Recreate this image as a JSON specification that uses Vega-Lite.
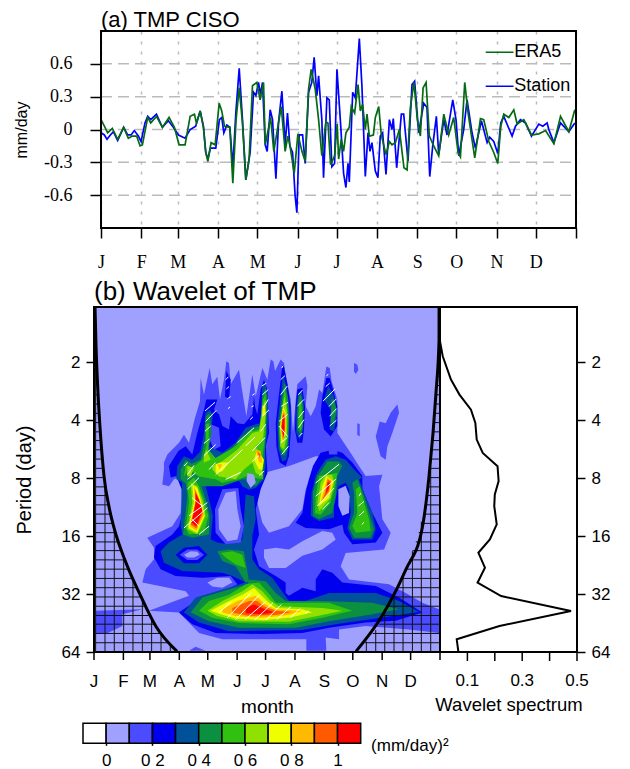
{"$schema":"https://vega.github.io/schema/vega-lite/v6.json","padding":{"left":13,"top":9,"right":0,"bottom":0},"bounds":"flush","spacing":79,"config":{"font":"Liberation Sans","axis":{"grid":false,"domainColor":"black","tickColor":"black","labelColor":"black","titleColor":"black","titleFontWeight":"normal","domainWidth":2,"tickWidth":1.5,"labelOverlap":false}},
"datasets":{
"station":[[0,-0.03],[2.6,-0.05],[4.6,-0.09],[7.2,-0.05],[9.5,-0.02],[12.8,-0.1],[17.4,0.02],[20.5,-0.05],[23.1,-0.05],[25.6,-0.01],[28.7,-0.06],[30.8,-0.11],[33.8,0.06],[35.9,0.12],[38.2,0.09],[42.6,0.14],[47.2,0.02],[51.8,0.08],[55.6,0.02],[59.5,-0.05],[64.6,-0.08],[68.5,0],[72.8,0.03],[76.2,0.17],[78.7,0.03],[80.5,-0.21],[82.1,-0.27],[84.1,-0.17],[88.2,-0.17],[91,0.09],[92.8,0.11],[94.4,-0.03],[96.7,0.04],[99,0.02],[101.3,-0.34],[103.6,0.15],[106.2,0.56],[108.7,0.09],[111.3,-0.46],[114.6,-0.21],[117.2,0.34],[119,0.31],[121,0.43],[122.6,0.32],[124.1,0.43],[126.2,-0.14],[127.7,-0.2],[130,0.18],[131.8,0.09],[134.4,-0.45],[136.4,0.06],[139,0.35],[141.5,-0.14],[143.3,0.15],[145.1,-0.15],[147.2,-0.21],[149.2,-0.61],[150.5,-0.76],[152.3,-0.05],[154.9,-0.05],[156.9,-0.31],[159.5,0.34],[162,0.43],[163.8,0.66],[165.9,0.31],[167.2,0.49],[169.7,0.09],[171,-0.44],[173.6,0.29],[175.4,0.27],[177.4,-0.34],[179.5,-0.31],[181.3,0.55],[183.9,0.09],[186.4,-0.4],[188.2,-0.53],[189.8,-0.31],[190.8,-0.48],[193.4,0.34],[195.4,0.29],[198.5,0.83],[200.5,0.4],[203.1,-0.43],[205.2,-0.03],[206.7,-0.2],[208.2,-0.12],[210.8,-0.38],[212.8,-0.44],[214.6,-0.06],[216.4,-0.03],[219,-0.41],[221.6,0.09],[223.6,0],[224.6,0.1],[227.2,-0.35],[230.8,0.14],[232.6,0.14],[235.9,-0.29],[239,0.41],[241,0.44],[244.1,-0.03],[248,0.24],[250.5,0.2],[252.6,-0.43],[254.9,-0.15],[257.7,0.12],[259.5,-0.23],[263.4,0.09],[265.9,-0.05],[270.3,0.27],[272.8,0.09],[274.9,-0.24],[278.7,0],[281.3,0.27],[285.1,-0.03],[287.7,-0.17],[292.3,0.08],[296.7,-0.12],[298.7,-0.07],[301.8,-0.11],[304.9,-0.22],[307.2,0.06],[309.5,0.12],[315.9,-0.06],[318.5,0.03],[322.3,0.09],[326.2,0.06],[330.8,-0.06],[336.4,0.05],[339.5,0.03],[342.8,0.06],[344.1,0],[348,-0.12],[353.1,0.06],[359.5,-0.02],[364.1,0.06]],
"era5":[[0,0.09],[2.6,0.03],[5.1,-0.03],[8.7,0.01],[12.8,-0.09],[17.4,0.02],[21,-0.08],[24.1,-0.06],[27.4,-0.06],[30,-0.15],[31.8,-0.14],[35.9,0.11],[38.2,0.06],[42.6,0.12],[47.2,0.02],[52.3,0.11],[56.4,0.02],[60,-0.14],[64.6,-0.14],[68.5,0.12],[71.8,0.14],[73.3,0.06],[76.2,0.17],[78.7,0.02],[80.5,-0.21],[82.1,-0.29],[84.6,-0.12],[87.7,-0.14],[90.8,0.24],[92.8,0.17],[94.9,0.03],[99,0.02],[101.3,-0.49],[103.8,0.09],[106.2,0.38],[108.7,0.06],[111.3,-0.46],[113.8,-0.27],[116.4,0.4],[119.7,0.43],[122.3,0.27],[124.9,0.43],[126.2,-0.14],[127.7,-0.05],[130.3,0.11],[132.8,-0.2],[136.4,0.06],[138.5,0.21],[141.5,-0.2],[143.6,-0.06],[145.1,-0.14],[148.5,-0.4],[151.3,-0.04],[154.4,-0.2],[156.9,-0.29],[159.5,0.37],[161.5,0.55],[164.6,0.37],[167.2,0.09],[169.7,-0.24],[172.8,0.07],[174.4,0.06],[176.4,-0.32],[179.5,-0.24],[181.5,0.05],[182.6,-0.27],[184.6,-0.09],[186.4,-0.2],[188.2,-0.03],[190.8,0.02],[192.3,0.21],[194.9,0.15],[197.5,0.41],[199.3,0.17],[201,0.23],[203.1,0],[204.4,0.14],[206.2,-0.06],[209.3,-0.05],[210.8,0.11],[213.4,0.21],[215.4,-0.05],[219,-0.23],[221.6,-0.11],[223.6,-0.14],[226.2,-0.12],[229.3,0],[232.8,-0.35],[235.2,-0.37],[237.7,0.2],[240.5,0.43],[243.1,0.09],[245.4,-0.06],[247.5,0.38],[249.8,0.43],[252.3,-0.06],[255.7,-0.15],[259.5,-0.24],[263.4,0.14],[267.2,-0.05],[271,0.11],[274.4,-0.21],[276.2,-0.25],[279.5,0.43],[282.1,0.15],[287.2,-0.26],[291.6,0.1],[294.1,0.09],[298,-0.11],[301.8,-0.21],[304.9,-0.31],[307.2,0.03],[309.5,0.14],[313.4,0.11],[317.2,0.18],[319.8,0.05],[324.9,0.09],[330.8,-0.05],[336.4,-0.04],[341.6,-0.01],[348,-0.13],[353.1,0.12],[359.5,-0.02],[364.1,0.18]]
},
"vconcat":[
{"width":482,"height":197,"view":{"stroke":null},"title":{"text":"(a) TMP CISO","anchor":"start","frame":"group","dx":7,"font":"Liberation Sans","fontWeight":"normal","fontSize":22,"offset":-2},
"layer":[
{"data":{"values":[{"v":-0.6},{"v":-0.3},{"v":0},{"v":0.3},{"v":0.6}]},"transform":[{"calculate":"0","as":"a"},{"calculate":"365","as":"b"}],"mark":{"type":"rule","color":"#bbbbbb","strokeWidth":1.5,"strokeDash":[11,6]},"encoding":{"x":{"field":"a","type":"quantitative","scale":{"domain":[0,365],"range":[7,482],"nice":false},"axis":{"values":[0,31,59,90,120,151,181,212,243,273,304,334,365],"labelExpr":"['J','F','M','A','M','J','J','A','S','O','N','D',''][indexof([0,31,59,90,120,151,181,212,243,273,304,334,365],datum.value)]","title":null,"grid":true,"gridColor":"#bbbbbb","gridWidth":1.5,"gridDash":[3,7],"tickSize":10,"labelFont":"Liberation Serif","labelFontSize":18,"labelPadding":15,"domain":false,"labelFlush":false}},"x2":{"field":"b"},"y":{"field":"v","type":"quantitative","scale":{"domain":[-0.9,0.9],"nice":false},"axis":{"values":[-0.6,-0.3,0,0.3,0.6],"offset":-7,"labelExpr":"datum.value==0?'0':(datum.value<0?'-':'')+format(abs(datum.value),'.1f')","title":"mm/day","titleFontSize":16,"titleFont":"Liberation Sans","titlePadding":14,"tickSize":11,"labelFont":"Liberation Serif","labelFontSize":18,"labelPadding":18,"domain":false}}}},
{"data":{"name":"station"},"transform":[{"calculate":"datum[0]","as":"d"},{"calculate":"datum[1]","as":"v"}],"mark":{"type":"line","color":"#0000FF","strokeWidth":1.7},"encoding":{"x":{"field":"d","type":"quantitative"},"y":{"field":"v","type":"quantitative"},"order":{"value":null}}},
{"data":{"name":"era5"},"transform":[{"calculate":"datum[0]","as":"d"},{"calculate":"datum[1]","as":"v"}],"mark":{"type":"line","color":"#056A14","strokeWidth":1.7},"encoding":{"x":{"field":"d","type":"quantitative"},"y":{"field":"v","type":"quantitative"},"order":{"value":null}}},
{"data":{"values":[{"a":0,"b":365,"c":-0.9,"e":0.9}]},"mark":{"type":"rect","filled":false,"stroke":"black","strokeWidth":2},"encoding":{"x":{"field":"a","type":"quantitative"},"x2":{"field":"b"},"y":{"field":"c","type":"quantitative"},"y2":{"field":"e"}}},
{"data":{"values":[{"a":295.6,"b":317,"v":0.706,"s":"#056A14"},{"a":295.6,"b":317,"v":0.395,"s":"#0000FF"}]},"mark":{"type":"rule","strokeWidth":1.5},"encoding":{"x":{"field":"a","type":"quantitative"},"x2":{"field":"b"},"y":{"field":"v","type":"quantitative"},"color":{"field":"s","type":"nominal","scale":null,"legend":null}}},
{"data":{"values":[{"a":317.5,"v":0.706,"t":"ERA5"},{"a":317.5,"v":0.395,"t":"Station"}]},"mark":{"type":"text","align":"left","baseline":"middle","font":"Liberation Sans","fontSize":18,"color":"black"},"encoding":{"x":{"field":"a","type":"quantitative"},"y":{"field":"v","type":"quantitative"},"text":{"field":"t"}}}
]},
{"width":346,"height":345,"view":{"fill":"#A0A0FF","stroke":"black","strokeWidth":2},"title":{"text":"(b) Wavelet of TMP","anchor":"start","frame":"group","font":"Liberation Sans","fontWeight":"normal","fontSize":26,"offset":-4},
"resolve":{"scale":{"x":"independent"},"axis":{"x":"independent","y":"independent"}},
"layer":[
{"layer":[
{"data":{"values":[
{"c":1,"l":2,"x":73.8,"y":2.73},{"c":1,"l":2,"x":77.4,"y":2.59},{"c":1,"l":2,"x":89.7,"y":2.39},{"c":1,"l":2,"x":94.9,"y":2.25},{"c":1,"l":2,"x":100.2,"y":2.39},{"c":1,"l":2,"x":106.5,"y":1.96},{"c":1,"l":2,"x":111.8,"y":1.67},{"c":1,"l":2,"x":112.5,"y":1.27},{"c":1,"l":2,"x":116,"y":1.56},{"c":1,"l":2,"x":122,"y":1.1},{"c":1,"l":2,"x":124.8,"y":1.38},{"c":1,"l":2,"x":130.1,"y":1.25},{"c":1,"l":2,"x":132.9,"y":1.64},{"c":1,"l":2,"x":137.1,"y":1.3},{"c":1,"l":2,"x":139.6,"y":0.98},{"c":1,"l":2,"x":142.4,"y":1.01},{"c":1,"l":2,"x":144.2,"y":1.38},{"c":1,"l":2,"x":153,"y":1.13},{"c":1,"l":2,"x":155.8,"y":1.44},{"c":1,"l":2,"x":160.7,"y":1.93},{"c":1,"l":2,"x":167,"y":1.21},{"c":1,"l":2,"x":170.6,"y":1.59},{"c":1,"l":2,"x":177.6,"y":1.1},{"c":1,"l":2,"x":182.9,"y":1.3},{"c":1,"l":2,"x":186.4,"y":0.95},{"c":1,"l":2,"x":189.2,"y":0.98},{"c":1,"l":2,"x":191,"y":1.15},{"c":1,"l":2,"x":196.9,"y":0.95},{"c":1,"l":2,"x":200.4,"y":1.01},{"c":1,"l":2,"x":202.9,"y":1.3},{"c":1,"l":2,"x":207.5,"y":1.64},{"c":1,"l":2,"x":209.9,"y":2.22},{"c":1,"l":2,"x":212.8,"y":1.64},{"c":1,"l":2,"x":214.5,"y":1.38},{"c":1,"l":2,"x":223.3,"y":1.24},{"c":1,"l":2,"x":225.1,"y":1.41},{"c":1,"l":2,"x":223.3,"y":1.76},{"c":1,"l":2,"x":228.6,"y":1.93},{"c":1,"l":2,"x":233.9,"y":1.76},{"c":1,"l":2,"x":237.4,"y":1.47},{"c":1,"l":2,"x":240.9,"y":1.53},{"c":1,"l":2,"x":245.1,"y":1.07},{"c":1,"l":2,"x":248.6,"y":1.1},{"c":1,"l":2,"x":250.7,"y":1.33},{"c":1,"l":2,"x":256.7,"y":1.64},{"c":1,"l":2,"x":256.7,"y":2.22},{"c":1,"l":2,"x":267.3,"y":2.48},{"c":1,"l":2,"x":279.6,"y":2.79},{"c":1,"l":2,"x":286.6,"y":2.96},{"c":1,"l":2,"x":304.2,"y":2.94},{"c":1,"l":2,"x":300.7,"y":3.14},{"c":1,"l":2,"x":304.2,"y":3.71},{"c":1,"l":2,"x":313,"y":3.94},{"c":1,"l":2,"x":306,"y":4.23},{"c":1,"l":2,"x":265.5,"y":4.29},{"c":1,"l":2,"x":260.2,"y":4.52},{"c":1,"l":2,"x":269,"y":4.75},{"c":1,"l":2,"x":311.2,"y":4.83},{"c":1,"l":2,"x":328.8,"y":4.98},{"c":1,"l":2,"x":346.4,"y":5.15},{"c":1,"l":2,"x":364,"y":5.26},{"c":1,"l":2,"x":364,"y":5.67},{"c":1,"l":2,"x":332.3,"y":5.61},{"c":1,"l":2,"x":286.6,"y":5.55},{"c":1,"l":2,"x":258.5,"y":5.61},{"c":1,"l":2,"x":258.5,"y":5.78},{"c":1,"l":2,"x":244.4,"y":5.75},{"c":1,"l":2,"x":245.1,"y":5.98},{"c":1,"l":2,"x":224,"y":5.98},{"c":1,"l":2,"x":224,"y":5.78},{"c":1,"l":2,"x":170.6,"y":5.78},{"c":1,"l":2,"x":135.4,"y":5.78},{"c":1,"l":2,"x":110.8,"y":5.67},{"c":1,"l":2,"x":89.7,"y":5.32},{"c":1,"l":2,"x":58,"y":5.29},{"c":1,"l":2,"x":100.2,"y":5.03},{"c":1,"l":2,"x":96.7,"y":4.95},{"c":1,"l":2,"x":51,"y":4.8},{"c":1,"l":2,"x":54.5,"y":4.57},{"c":1,"l":2,"x":63.3,"y":4.4},{"c":1,"l":2,"x":63.3,"y":4.2},{"c":1,"l":2,"x":56.2,"y":4.03},{"c":1,"l":2,"x":82.6,"y":3.83},{"c":1,"l":2,"x":91.4,"y":3.6},{"c":1,"l":2,"x":93.2,"y":2.96},{"c":1,"l":2,"x":84.4,"y":3.02},{"c":1,"l":2,"x":79.1,"y":3.14},{"c":1,"l":2,"x":72.1,"y":3.11},{"c":1,"l":2,"x":73.8,"y":2.85},
{"c":2,"l":2,"x":320,"y":1.73},{"c":2,"l":2,"x":321.8,"y":1.87},{"c":2,"l":2,"x":314.7,"y":2.22},{"c":2,"l":2,"x":309.5,"y":2.45},{"c":2,"l":2,"x":307.7,"y":2.68},{"c":2,"l":2,"x":302.4,"y":2.62},{"c":2,"l":2,"x":297.2,"y":2.28},{"c":2,"l":2,"x":301.4,"y":2.02},{"c":2,"l":2,"x":307.7,"y":2.05},{"c":2,"l":2,"x":313,"y":1.87},
{"c":3,"l":2,"x":274.3,"y":1.01},{"c":3,"l":2,"x":277.8,"y":1.04},{"c":3,"l":2,"x":278.9,"y":1.13},{"c":3,"l":2,"x":276.1,"y":1.2},{"c":3,"l":2,"x":274.3,"y":1.16},
{"c":4,"l":2,"x":277.8,"y":2.05},{"c":4,"l":2,"x":280.3,"y":2.07},{"c":4,"l":2,"x":280.3,"y":2.28},{"c":4,"l":2,"x":277.8,"y":2.25},
{"c":5,"l":2,"x":1.7,"y":5.29},{"c":5,"l":2,"x":51,"y":5.26},{"c":5,"l":2,"x":29.9,"y":5.35},{"c":5,"l":2,"x":29.9,"y":5.55},{"c":5,"l":2,"x":12.3,"y":5.69},{"c":5,"l":2,"x":1.7,"y":5.67},
{"c":6,"l":2,"x":100.2,"y":5.98},{"c":6,"l":2,"x":107.2,"y":5.91},{"c":6,"l":2,"x":117.8,"y":5.98},
{"c":7,"l":1,"x":172.3,"y":3.19},{"c":7,"l":1,"x":179.3,"y":2.91},{"c":7,"l":1,"x":205.7,"y":2.79},{"c":7,"l":1,"x":233.9,"y":2.62},{"c":7,"l":1,"x":240.9,"y":2.62},{"c":7,"l":1,"x":230.3,"y":2.85},{"c":7,"l":1,"x":223.3,"y":3.19},{"c":7,"l":1,"x":219.8,"y":3.54},{"c":7,"l":1,"x":205.7,"y":3.83},{"c":7,"l":1,"x":184.6,"y":3.94},{"c":7,"l":1,"x":177.6,"y":3.77},{"c":7,"l":1,"x":172.3,"y":3.42},
{"c":8,"l":1,"x":179.3,"y":4.23},{"c":8,"l":1,"x":191.7,"y":4.2},{"c":8,"l":1,"x":205.7,"y":4.23},{"c":8,"l":1,"x":219.8,"y":4.09},{"c":8,"l":1,"x":240.9,"y":3.91},{"c":8,"l":1,"x":251.4,"y":3.94},{"c":8,"l":1,"x":255,"y":4.06},{"c":8,"l":1,"x":240.9,"y":4.23},{"c":8,"l":1,"x":219.8,"y":4.34},{"c":8,"l":1,"x":202.2,"y":4.55},{"c":8,"l":1,"x":184.6,"y":4.55},{"c":8,"l":1,"x":179.3,"y":4.37},
{"c":12,"l":1,"x":209.2,"y":5.03},{"c":12,"l":1,"x":216.3,"y":4.92},{"c":12,"l":1,"x":223.3,"y":5.06},
{"c":13,"l":1,"x":119.6,"y":4.8},{"c":13,"l":1,"x":130.1,"y":4.72},{"c":13,"l":1,"x":142.4,"y":4.72},{"c":13,"l":1,"x":145.9,"y":4.8},{"c":13,"l":1,"x":135.4,"y":4.89},{"c":13,"l":1,"x":124.8,"y":4.87},
{"c":20,"l":3,"x":82.6,"y":3.97},{"c":20,"l":3,"x":65,"y":4.17},{"c":20,"l":3,"x":63.3,"y":4.37},{"c":20,"l":3,"x":70.3,"y":4.57},{"c":20,"l":3,"x":86.1,"y":4.69},{"c":20,"l":3,"x":114.3,"y":4.72},{"c":20,"l":3,"x":144.2,"y":4.69},{"c":20,"l":3,"x":151.2,"y":4.83},{"c":20,"l":3,"x":128.3,"y":5.01},{"c":20,"l":3,"x":107.2,"y":5.12},{"c":20,"l":3,"x":89.7,"y":5.32},{"c":20,"l":3,"x":103.7,"y":5.52},{"c":20,"l":3,"x":128.3,"y":5.67},{"c":20,"l":3,"x":177.6,"y":5.69},{"c":20,"l":3,"x":219.8,"y":5.67},{"c":20,"l":3,"x":247.9,"y":5.58},{"c":20,"l":3,"x":286.6,"y":5.49},{"c":20,"l":3,"x":318.3,"y":5.46},{"c":20,"l":3,"x":346.4,"y":5.32},{"c":20,"l":3,"x":321.8,"y":5.06},{"c":20,"l":3,"x":297.2,"y":4.86},{"c":20,"l":3,"x":262,"y":4.8},{"c":20,"l":3,"x":251.4,"y":4.63},{"c":20,"l":3,"x":240.9,"y":4.57},{"c":20,"l":3,"x":233.9,"y":4.75},{"c":20,"l":3,"x":233.9,"y":4.95},{"c":20,"l":3,"x":219.8,"y":4.89},{"c":20,"l":3,"x":205.7,"y":5.03},{"c":20,"l":3,"x":202.2,"y":4.98},{"c":20,"l":3,"x":202.2,"y":4.8},{"c":20,"l":3,"x":191.7,"y":4.69},{"c":20,"l":3,"x":174.1,"y":4.52},{"c":20,"l":3,"x":168.8,"y":4.23},{"c":20,"l":3,"x":174.1,"y":3.97},{"c":20,"l":3,"x":170.6,"y":3.54},{"c":20,"l":3,"x":175.8,"y":3.19},{"c":20,"l":3,"x":182.9,"y":2.91},{"c":20,"l":3,"x":181.1,"y":2.45},{"c":20,"l":3,"x":184.6,"y":2.22},{"c":20,"l":3,"x":183.9,"y":1.87},{"c":20,"l":3,"x":182.9,"y":1.47},{"c":20,"l":3,"x":179.3,"y":1.3},{"c":20,"l":3,"x":175.8,"y":1.47},{"c":20,"l":3,"x":172.3,"y":1.9},{"c":20,"l":3,"x":169.8,"y":1.76},{"c":20,"l":3,"x":168.8,"y":1.59},{"c":20,"l":3,"x":167,"y":1.9},{"c":20,"l":3,"x":158.2,"y":2.07},{"c":20,"l":3,"x":151.2,"y":2.05},{"c":20,"l":3,"x":144.2,"y":1.93},{"c":20,"l":3,"x":142.4,"y":2.16},{"c":20,"l":3,"x":135.4,"y":2.1},{"c":20,"l":3,"x":131.9,"y":1.9},{"c":20,"l":3,"x":126.6,"y":1.82},{"c":20,"l":3,"x":130.1,"y":1.64},{"c":20,"l":3,"x":118.5,"y":1.64},{"c":20,"l":3,"x":116,"y":1.82},{"c":20,"l":3,"x":109,"y":2.22},{"c":20,"l":3,"x":103.7,"y":2.59},{"c":20,"l":3,"x":96.7,"y":2.45},{"c":20,"l":3,"x":89,"y":2.53},{"c":20,"l":3,"x":79.1,"y":2.79},{"c":20,"l":3,"x":80.9,"y":2.99},{"c":20,"l":3,"x":86.8,"y":2.96},{"c":20,"l":3,"x":92.5,"y":3.19},{"c":20,"l":3,"x":93.2,"y":3.6},{"c":20,"l":3,"x":89.7,"y":3.83},
{"c":21,"l":3,"x":198.7,"y":1.04},{"c":21,"l":3,"x":196.9,"y":1.3},{"c":21,"l":3,"x":194.5,"y":1.64},{"c":21,"l":3,"x":191.7,"y":2.05},{"c":21,"l":3,"x":192.4,"y":2.45},{"c":21,"l":3,"x":195.9,"y":2.73},{"c":21,"l":3,"x":202.2,"y":2.79},{"c":21,"l":3,"x":205.7,"y":2.62},{"c":21,"l":3,"x":207.5,"y":2.22},{"c":21,"l":3,"x":207.5,"y":1.76},{"c":21,"l":3,"x":204,"y":1.36},{"c":21,"l":3,"x":200.4,"y":1.07},
{"c":22,"l":3,"x":214.5,"y":1.47},{"c":22,"l":3,"x":212.8,"y":1.76},{"c":22,"l":3,"x":212,"y":2.16},{"c":22,"l":3,"x":214.5,"y":2.39},{"c":22,"l":3,"x":219.8,"y":2.39},{"c":22,"l":3,"x":221.5,"y":2.16},{"c":22,"l":3,"x":222.6,"y":1.76},{"c":22,"l":3,"x":219.8,"y":1.44},
{"c":23,"l":3,"x":245.1,"y":1.27},{"c":23,"l":3,"x":240.9,"y":1.59},{"c":23,"l":3,"x":239.1,"y":1.87},{"c":23,"l":3,"x":242.7,"y":2.16},{"c":23,"l":3,"x":249.7,"y":2.28},{"c":23,"l":3,"x":256.7,"y":2.1},{"c":23,"l":3,"x":256.7,"y":1.76},{"c":23,"l":3,"x":253.2,"y":1.53},{"c":23,"l":3,"x":248.6,"y":1.27},
{"c":24,"l":3,"x":139.6,"y":1.15},{"c":24,"l":3,"x":138.2,"y":1.59},{"c":24,"l":3,"x":142.4,"y":1.64},{"c":24,"l":3,"x":144.2,"y":1.3},
{"c":25,"l":3,"x":223.3,"y":3.25},{"c":25,"l":3,"x":219.8,"y":3.6},{"c":25,"l":3,"x":212.8,"y":3.77},{"c":25,"l":3,"x":223.3,"y":3.86},{"c":25,"l":3,"x":247.9,"y":3.88},{"c":25,"l":3,"x":262,"y":3.8},{"c":25,"l":3,"x":263.7,"y":3.94},{"c":25,"l":3,"x":272.5,"y":4.14},{"c":25,"l":3,"x":297.2,"y":4.11},{"c":25,"l":3,"x":304.2,"y":3.94},{"c":25,"l":3,"x":293.7,"y":3.6},{"c":25,"l":3,"x":283.1,"y":3.19},{"c":25,"l":3,"x":283.1,"y":2.96},{"c":25,"l":3,"x":272.5,"y":2.73},{"c":25,"l":3,"x":262,"y":2.56},{"c":25,"l":3,"x":251.4,"y":2.51},{"c":25,"l":3,"x":239.1,"y":2.56},{"c":25,"l":3,"x":231,"y":2.79},{"c":25,"l":3,"x":226.8,"y":3.02},
{"c":30,"l":4,"x":93.2,"y":2.91},{"c":30,"l":4,"x":92.5,"y":3.42},{"c":30,"l":4,"x":91.4,"y":3.83},{"c":30,"l":4,"x":93.2,"y":3.97},{"c":30,"l":4,"x":79.1,"y":4.11},{"c":30,"l":4,"x":70.3,"y":4.26},{"c":30,"l":4,"x":73.8,"y":4.46},{"c":30,"l":4,"x":93.2,"y":4.6},{"c":30,"l":4,"x":135.4,"y":4.63},{"c":30,"l":4,"x":145.9,"y":4.69},{"c":30,"l":4,"x":160,"y":4.8},{"c":30,"l":4,"x":135.4,"y":4.92},{"c":30,"l":4,"x":107.2,"y":5.06},{"c":30,"l":4,"x":94.9,"y":5.32},{"c":30,"l":4,"x":110.8,"y":5.49},{"c":30,"l":4,"x":142.4,"y":5.64},{"c":30,"l":4,"x":219.8,"y":5.62},{"c":30,"l":4,"x":255,"y":5.52},{"c":30,"l":4,"x":290.1,"y":5.44},{"c":30,"l":4,"x":342.9,"y":5.31},{"c":30,"l":4,"x":321.8,"y":5.12},{"c":30,"l":4,"x":297.2,"y":4.98},{"c":30,"l":4,"x":247.9,"y":4.98},{"c":30,"l":4,"x":223.3,"y":5.12},{"c":30,"l":4,"x":205.7,"y":5.12},{"c":30,"l":4,"x":196.9,"y":4.92},{"c":30,"l":4,"x":188.1,"y":4.72},{"c":30,"l":4,"x":174.1,"y":4.57},{"c":30,"l":4,"x":167,"y":4.4},{"c":30,"l":4,"x":167,"y":4},{"c":30,"l":4,"x":170.6,"y":3.71},{"c":30,"l":4,"x":168.8,"y":3.31},{"c":30,"l":4,"x":160,"y":3.28},{"c":30,"l":4,"x":158.2,"y":3.71},{"c":30,"l":4,"x":156.5,"y":4.06},{"c":30,"l":4,"x":140.7,"y":4.14},{"c":30,"l":4,"x":130.1,"y":4.11},{"c":30,"l":4,"x":123.1,"y":4.06},{"c":30,"l":4,"x":125.5,"y":3.65},{"c":30,"l":4,"x":120.6,"y":3.31},{"c":30,"l":4,"x":117.8,"y":3.14},{"c":30,"l":4,"x":117.8,"y":2.96},{"c":30,"l":4,"x":100.2,"y":2.85},
{"c":31,"l":4,"x":86.8,"y":3.02},{"c":31,"l":4,"x":87.9,"y":2.79},{"c":31,"l":4,"x":94.9,"y":2.62},{"c":31,"l":4,"x":103.7,"y":2.68},{"c":31,"l":4,"x":112.5,"y":2.53},{"c":31,"l":4,"x":116,"y":2.22},{"c":31,"l":4,"x":117.8,"y":1.87},{"c":31,"l":4,"x":122,"y":1.82},{"c":31,"l":4,"x":125.5,"y":1.9},{"c":31,"l":4,"x":123.1,"y":2.22},{"c":31,"l":4,"x":121.3,"y":2.45},{"c":31,"l":4,"x":135.4,"y":2.56},{"c":31,"l":4,"x":149.4,"y":2.39},{"c":31,"l":4,"x":160,"y":2.13},{"c":31,"l":4,"x":170.6,"y":2.07},{"c":31,"l":4,"x":175.8,"y":2.05},{"c":31,"l":4,"x":177.6,"y":1.41},{"c":31,"l":4,"x":181.1,"y":1.38},{"c":31,"l":4,"x":183.9,"y":1.64},{"c":31,"l":4,"x":182.9,"y":2.22},{"c":31,"l":4,"x":180.4,"y":2.51},{"c":31,"l":4,"x":181.1,"y":2.79},{"c":31,"l":4,"x":179.3,"y":3.02},{"c":31,"l":4,"x":170.6,"y":3.17},{"c":31,"l":4,"x":163.5,"y":3.2},{"c":31,"l":4,"x":156.5,"y":3.14},{"c":31,"l":4,"x":153,"y":3.05},{"c":31,"l":4,"x":117.8,"y":3.14},{"c":31,"l":4,"x":100.2,"y":3.14},
{"c":32,"l":4,"x":199.4,"y":1.21},{"c":32,"l":4,"x":196.9,"y":1.59},{"c":32,"l":4,"x":193.4,"y":2.05},{"c":32,"l":4,"x":194.5,"y":2.5},{"c":32,"l":4,"x":198.7,"y":2.71},{"c":32,"l":4,"x":202.9,"y":2.68},{"c":32,"l":4,"x":205.7,"y":2.39},{"c":32,"l":4,"x":206.4,"y":1.87},{"c":32,"l":4,"x":202.9,"y":1.41},
{"c":33,"l":4,"x":215.6,"y":1.53},{"c":33,"l":4,"x":213.5,"y":1.82},{"c":33,"l":4,"x":213.5,"y":2.22},{"c":33,"l":4,"x":217,"y":2.33},{"c":33,"l":4,"x":220.5,"y":2.16},{"c":33,"l":4,"x":221.5,"y":1.76},{"c":33,"l":4,"x":219.1,"y":1.5},
{"c":34,"l":4,"x":247.2,"y":1.41},{"c":34,"l":4,"x":242.7,"y":1.64},{"c":34,"l":4,"x":249.7,"y":1.82},{"c":34,"l":4,"x":248.6,"y":2.16},{"c":34,"l":4,"x":253.2,"y":2.19},{"c":34,"l":4,"x":256.7,"y":1.87},{"c":34,"l":4,"x":253.2,"y":1.59},
{"c":35,"l":4,"x":237.4,"y":2.85},{"c":35,"l":4,"x":244.4,"y":2.68},{"c":35,"l":4,"x":255,"y":2.62},{"c":35,"l":4,"x":265.5,"y":2.68},{"c":35,"l":4,"x":276.1,"y":2.88},{"c":35,"l":4,"x":283.1,"y":2.99},{"c":35,"l":4,"x":279.6,"y":3.02},{"c":35,"l":4,"x":286.6,"y":3.31},{"c":35,"l":4,"x":293.7,"y":3.6},{"c":35,"l":4,"x":297.2,"y":3.88},{"c":35,"l":4,"x":293.7,"y":4.06},{"c":35,"l":4,"x":272.5,"y":4.06},{"c":35,"l":4,"x":267.3,"y":3.86},{"c":35,"l":4,"x":270.8,"y":3.6},{"c":35,"l":4,"x":269,"y":3.19},{"c":35,"l":4,"x":265.5,"y":3.08},{"c":35,"l":4,"x":257.8,"y":3.14},{"c":35,"l":4,"x":253.2,"y":3.48},{"c":35,"l":4,"x":253.2,"y":3.68},{"c":35,"l":4,"x":237.4,"y":3.74},{"c":35,"l":4,"x":228.6,"y":3.65},{"c":35,"l":4,"x":229.6,"y":3.25},{"c":35,"l":4,"x":233.9,"y":2.96},
{"c":36,"l":2,"x":247.2,"y":2.45},{"c":36,"l":2,"x":256.7,"y":2.45},{"c":36,"l":2,"x":256.7,"y":2.59},{"c":36,"l":2,"x":247.9,"y":2.59},
{"c":37,"l":2,"x":135.4,"y":3.19},{"c":37,"l":2,"x":152.3,"y":3.17},{"c":37,"l":2,"x":154.7,"y":3.54},{"c":37,"l":2,"x":158.2,"y":3.83},{"c":37,"l":2,"x":154.7,"y":4.11},{"c":37,"l":2,"x":138.9,"y":4.14},{"c":37,"l":2,"x":128.3,"y":3.94},{"c":37,"l":2,"x":127.6,"y":3.54},
{"c":9,"l":1,"x":138.9,"y":3.25},{"c":9,"l":1,"x":149.4,"y":3.22},{"c":9,"l":1,"x":151.2,"y":3.54},{"c":9,"l":1,"x":154.7,"y":3.83},{"c":9,"l":1,"x":151.2,"y":4.06},{"c":9,"l":1,"x":140.7,"y":4.09},{"c":9,"l":1,"x":131.9,"y":3.88},{"c":9,"l":1,"x":131.2,"y":3.54},
{"c":38,"l":2,"x":123.1,"y":2.07},{"c":38,"l":2,"x":131.9,"y":2.13},{"c":38,"l":2,"x":133.6,"y":2.45},{"c":38,"l":2,"x":126.6,"y":2.51},{"c":38,"l":2,"x":122,"y":2.33},
{"c":10,"l":1,"x":257.8,"y":3.19},{"c":10,"l":1,"x":265.5,"y":3.13},{"c":10,"l":1,"x":269.7,"y":3.31},{"c":10,"l":1,"x":269,"y":3.6},{"c":10,"l":1,"x":262,"y":3.65},{"c":10,"l":1,"x":257.8,"y":3.48},
{"c":201,"l":3,"x":86.1,"y":4.32},{"c":201,"l":3,"x":94.9,"y":4.2},{"c":201,"l":3,"x":110.8,"y":4.17},{"c":201,"l":3,"x":119.6,"y":4.32},{"c":201,"l":3,"x":110.8,"y":4.47},{"c":201,"l":3,"x":94.9,"y":4.47},
{"c":202,"l":2,"x":90.4,"y":4.32},{"c":202,"l":2,"x":98.5,"y":4.23},{"c":202,"l":2,"x":109,"y":4.23},{"c":202,"l":2,"x":116,"y":4.32},{"c":202,"l":2,"x":109,"y":4.41},{"c":202,"l":2,"x":98.5,"y":4.41},
{"c":203,"l":1,"x":94.9,"y":4.32},{"c":203,"l":1,"x":102,"y":4.26},{"c":203,"l":1,"x":109,"y":4.27},{"c":203,"l":1,"x":111.5,"y":4.32},{"c":203,"l":1,"x":105.5,"y":4.37},{"c":203,"l":1,"x":98.5,"y":4.37},
{"c":40,"l":5,"x":163.5,"y":4.75},{"c":40,"l":5,"x":181.1,"y":4.78},{"c":40,"l":5,"x":191.7,"y":4.98},{"c":40,"l":5,"x":202.2,"y":5.12},{"c":40,"l":5,"x":240.9,"y":5.12},{"c":40,"l":5,"x":293.7,"y":5.15},{"c":40,"l":5,"x":321.8,"y":5.26},{"c":40,"l":5,"x":293.7,"y":5.35},{"c":40,"l":5,"x":247.9,"y":5.47},{"c":40,"l":5,"x":212.8,"y":5.58},{"c":40,"l":5,"x":153,"y":5.58},{"c":40,"l":5,"x":121.3,"y":5.47},{"c":40,"l":5,"x":102,"y":5.32},{"c":40,"l":5,"x":114.3,"y":5.06},{"c":40,"l":5,"x":142.4,"y":4.92},{"c":40,"l":5,"x":161.8,"y":4.83},
{"c":41,"l":5,"x":130.1,"y":4.26},{"c":41,"l":5,"x":142.4,"y":4.23},{"c":41,"l":5,"x":158.2,"y":4.26},{"c":41,"l":5,"x":163.5,"y":4.78},{"c":41,"l":5,"x":160,"y":4.8},{"c":41,"l":5,"x":149.4,"y":4.52},{"c":41,"l":5,"x":135.4,"y":4.43},
{"c":42,"l":5,"x":96,"y":2.96},{"c":42,"l":5,"x":98.5,"y":3.31},{"c":42,"l":5,"x":94.9,"y":3.83},{"c":42,"l":5,"x":93.9,"y":3.97},{"c":42,"l":5,"x":103.7,"y":4.03},{"c":42,"l":5,"x":121.3,"y":3.97},{"c":42,"l":5,"x":122,"y":3.65},{"c":42,"l":5,"x":117.8,"y":3.37},{"c":42,"l":5,"x":112.5,"y":3.08},{"c":42,"l":5,"x":107.2,"y":2.94},
{"c":43,"l":5,"x":240.9,"y":2.85},{"c":43,"l":5,"x":246.2,"y":2.71},{"c":43,"l":5,"x":258.5,"y":2.71},{"c":43,"l":5,"x":262,"y":2.79},{"c":43,"l":5,"x":256.7,"y":2.96},{"c":43,"l":5,"x":255,"y":3.31},{"c":43,"l":5,"x":251.4,"y":3.6},{"c":43,"l":5,"x":237.4,"y":3.71},{"c":43,"l":5,"x":231,"y":3.65},{"c":43,"l":5,"x":231,"y":3.25},{"c":43,"l":5,"x":235.6,"y":2.96},
{"c":44,"l":5,"x":272.5,"y":3.08},{"c":44,"l":5,"x":277.8,"y":3.02},{"c":44,"l":5,"x":284.9,"y":3.31},{"c":44,"l":5,"x":290.1,"y":3.6},{"c":44,"l":5,"x":295.4,"y":3.88},{"c":44,"l":5,"x":291.9,"y":4.03},{"c":44,"l":5,"x":274.3,"y":4.03},{"c":44,"l":5,"x":269,"y":3.86},{"c":44,"l":5,"x":274.3,"y":3.6},{"c":44,"l":5,"x":274.3,"y":3.25},
{"c":45,"l":5,"x":91.4,"y":3.02},{"c":45,"l":5,"x":91.4,"y":2.85},{"c":45,"l":5,"x":96.7,"y":2.68},{"c":45,"l":5,"x":103,"y":2.75},{"c":45,"l":5,"x":112.5,"y":2.68},{"c":45,"l":5,"x":117.1,"y":2.33},{"c":45,"l":5,"x":117.8,"y":1.93},{"c":45,"l":5,"x":122,"y":1.87},{"c":45,"l":5,"x":124.1,"y":2.22},{"c":45,"l":5,"x":120.6,"y":2.51},{"c":45,"l":5,"x":128.3,"y":2.68},{"c":45,"l":5,"x":135.4,"y":2.68},{"c":45,"l":5,"x":153,"y":2.33},{"c":45,"l":5,"x":167,"y":2.13},{"c":45,"l":5,"x":175.8,"y":2.1},{"c":45,"l":5,"x":177.6,"y":1.59},{"c":45,"l":5,"x":181.1,"y":1.44},{"c":45,"l":5,"x":182.9,"y":1.64},{"c":45,"l":5,"x":181.1,"y":2.22},{"c":45,"l":5,"x":179.3,"y":2.79},{"c":45,"l":5,"x":176.9,"y":3.02},{"c":45,"l":5,"x":170.6,"y":3.14},{"c":45,"l":5,"x":160,"y":3.02},{"c":45,"l":5,"x":156.5,"y":3.02},{"c":45,"l":5,"x":135.4,"y":3.14},{"c":45,"l":5,"x":100.2,"y":3.14},
{"c":46,"l":5,"x":200.4,"y":1.36},{"c":46,"l":5,"x":197.6,"y":1.76},{"c":46,"l":5,"x":194.5,"y":2.1},{"c":46,"l":5,"x":195.9,"y":2.5},{"c":46,"l":5,"x":200.4,"y":2.62},{"c":46,"l":5,"x":203.9,"y":2.5},{"c":46,"l":5,"x":205.7,"y":2.1},{"c":46,"l":5,"x":205,"y":1.64},{"c":46,"l":5,"x":202.2,"y":1.41},
{"c":47,"l":5,"x":216.3,"y":1.59},{"c":47,"l":5,"x":214.5,"y":1.87},{"c":47,"l":5,"x":214.5,"y":2.16},{"c":47,"l":5,"x":218,"y":2.25},{"c":47,"l":5,"x":220.5,"y":2.1},{"c":47,"l":5,"x":220.5,"y":1.76},{"c":47,"l":5,"x":218.4,"y":1.56},
{"c":48,"l":5,"x":250.7,"y":1.64},{"c":48,"l":5,"x":249.7,"y":2.05},{"c":48,"l":5,"x":253.2,"y":2.05},{"c":48,"l":5,"x":255.7,"y":1.82},{"c":48,"l":5,"x":253.2,"y":1.64},
{"c":50,"l":6,"x":160,"y":4.83},{"c":50,"l":6,"x":174.1,"y":4.8},{"c":50,"l":6,"x":186.4,"y":5.03},{"c":50,"l":6,"x":191.7,"y":5.15},{"c":50,"l":6,"x":247.9,"y":5.15},{"c":50,"l":6,"x":272.5,"y":5.29},{"c":50,"l":6,"x":240.9,"y":5.41},{"c":50,"l":6,"x":205.7,"y":5.52},{"c":50,"l":6,"x":153,"y":5.5},{"c":50,"l":6,"x":124.8,"y":5.41},{"c":50,"l":6,"x":110.8,"y":5.29},{"c":50,"l":6,"x":121.3,"y":5.12},{"c":50,"l":6,"x":142.4,"y":5.01},
{"c":51,"l":6,"x":133.6,"y":4.29},{"c":51,"l":6,"x":145.9,"y":4.26},{"c":51,"l":6,"x":156.5,"y":4.32},{"c":51,"l":6,"x":160,"y":4.55},{"c":51,"l":6,"x":149.4,"y":4.49},{"c":51,"l":6,"x":138.9,"y":4.37},
{"c":52,"l":6,"x":98.5,"y":3.08},{"c":52,"l":6,"x":100.2,"y":3.42},{"c":52,"l":6,"x":96.7,"y":3.86},{"c":52,"l":6,"x":100.2,"y":3.97},{"c":52,"l":6,"x":116,"y":3.94},{"c":52,"l":6,"x":120.6,"y":3.65},{"c":52,"l":6,"x":116,"y":3.37},{"c":52,"l":6,"x":110.8,"y":3.14},{"c":52,"l":6,"x":105.5,"y":2.99},
{"c":53,"l":6,"x":237.4,"y":2.96},{"c":53,"l":6,"x":233.9,"y":3.31},{"c":53,"l":6,"x":233.1,"y":3.6},{"c":53,"l":6,"x":239.1,"y":3.63},{"c":53,"l":6,"x":249.7,"y":3.42},{"c":53,"l":6,"x":254.3,"y":3.14},{"c":53,"l":6,"x":256.7,"y":2.91},
{"c":54,"l":6,"x":276.1,"y":3.19},{"c":54,"l":6,"x":280.3,"y":3.14},{"c":54,"l":6,"x":284.9,"y":3.42},{"c":54,"l":6,"x":290.1,"y":3.71},{"c":54,"l":6,"x":291.9,"y":3.91},{"c":54,"l":6,"x":276.1,"y":3.94},{"c":54,"l":6,"x":272.5,"y":3.83},{"c":54,"l":6,"x":277.8,"y":3.6},
{"c":55,"l":6,"x":95,"y":2.97},{"c":55,"l":6,"x":96.7,"y":2.76},{"c":55,"l":6,"x":103.7,"y":2.82},{"c":55,"l":6,"x":114.3,"y":2.68},{"c":55,"l":6,"x":118.5,"y":2.45},{"c":55,"l":6,"x":117.8,"y":2.07},{"c":55,"l":6,"x":121.3,"y":2.05},{"c":55,"l":6,"x":120.6,"y":2.51},{"c":55,"l":6,"x":128.3,"y":2.65},{"c":55,"l":6,"x":149.4,"y":2.45},{"c":55,"l":6,"x":165.3,"y":2.19},{"c":55,"l":6,"x":174.1,"y":2.16},{"c":55,"l":6,"x":178.3,"y":1.64},{"c":55,"l":6,"x":181.1,"y":1.53},{"c":55,"l":6,"x":181.1,"y":2.22},{"c":55,"l":6,"x":177.6,"y":2.62},{"c":55,"l":6,"x":178.3,"y":3.02},{"c":55,"l":6,"x":160,"y":2.97},{"c":55,"l":6,"x":153,"y":3.02},{"c":55,"l":6,"x":135.4,"y":3.08},{"c":55,"l":6,"x":128.3,"y":3.02},{"c":55,"l":6,"x":110.8,"y":2.97},{"c":55,"l":6,"x":100.2,"y":2.85},
{"c":56,"l":6,"x":200.8,"y":1.47},{"c":56,"l":6,"x":198,"y":1.87},{"c":56,"l":6,"x":195.2,"y":2.16},{"c":56,"l":6,"x":196.6,"y":2.48},{"c":56,"l":6,"x":201.1,"y":2.56},{"c":56,"l":6,"x":203.9,"y":2.39},{"c":56,"l":6,"x":205,"y":1.93},{"c":56,"l":6,"x":202.2,"y":1.53},
{"c":57,"l":6,"x":216.3,"y":1.7},{"c":57,"l":6,"x":215.6,"y":2.1},{"c":57,"l":6,"x":218.4,"y":2.19},{"c":57,"l":6,"x":219.8,"y":1.93},{"c":57,"l":6,"x":218.4,"y":1.67},
{"c":60,"l":7,"x":167,"y":4.83},{"c":60,"l":7,"x":177.6,"y":4.95},{"c":60,"l":7,"x":186.4,"y":5.12},{"c":60,"l":7,"x":195.2,"y":5.21},{"c":60,"l":7,"x":240.9,"y":5.24},{"c":60,"l":7,"x":262,"y":5.29},{"c":60,"l":7,"x":240.9,"y":5.36},{"c":60,"l":7,"x":205.7,"y":5.48},{"c":60,"l":7,"x":153,"y":5.47},{"c":60,"l":7,"x":130.1,"y":5.38},{"c":60,"l":7,"x":119.6,"y":5.29},{"c":60,"l":7,"x":135.4,"y":5.12},{"c":60,"l":7,"x":156.5,"y":4.95},
{"c":61,"l":7,"x":102,"y":3.08},{"c":61,"l":7,"x":103.7,"y":3.42},{"c":61,"l":7,"x":98.5,"y":3.88},{"c":61,"l":7,"x":109,"y":3.97},{"c":61,"l":7,"x":117.8,"y":3.65},{"c":61,"l":7,"x":114.3,"y":3.37},{"c":61,"l":7,"x":109,"y":3.14},
{"c":62,"l":7,"x":239.1,"y":3.08},{"c":62,"l":7,"x":235.6,"y":3.42},{"c":62,"l":7,"x":237.4,"y":3.57},{"c":62,"l":7,"x":249.7,"y":3.34},{"c":62,"l":7,"x":253.2,"y":3.08},{"c":62,"l":7,"x":251.4,"y":2.94},{"c":62,"l":7,"x":244.4,"y":2.94},
{"c":63,"l":7,"x":98.5,"y":2.79},{"c":63,"l":7,"x":105.5,"y":2.82},{"c":63,"l":7,"x":102,"y":2.97},{"c":63,"l":7,"x":98.5,"y":2.97},
{"c":64,"l":7,"x":116,"y":2.62},{"c":64,"l":7,"x":118.5,"y":2.51},{"c":64,"l":7,"x":123.1,"y":2.68},{"c":64,"l":7,"x":116,"y":2.73},
{"c":65,"l":7,"x":124.8,"y":2.79},{"c":65,"l":7,"x":133.6,"y":2.73},{"c":65,"l":7,"x":151.2,"y":2.51},{"c":65,"l":7,"x":167,"y":2.22},{"c":65,"l":7,"x":174.1,"y":2.19},{"c":65,"l":7,"x":179.3,"y":1.7},{"c":65,"l":7,"x":181.1,"y":1.64},{"c":65,"l":7,"x":181.1,"y":1.9},{"c":65,"l":7,"x":178.3,"y":2.33},{"c":65,"l":7,"x":170.6,"y":2.45},{"c":65,"l":7,"x":177.6,"y":2.79},{"c":65,"l":7,"x":177.6,"y":2.97},{"c":65,"l":7,"x":170.6,"y":2.91},{"c":65,"l":7,"x":167,"y":2.73},{"c":65,"l":7,"x":158.2,"y":2.85},{"c":65,"l":7,"x":149.4,"y":3.02},{"c":65,"l":7,"x":131.9,"y":2.97},{"c":65,"l":7,"x":124.8,"y":2.85},
{"c":66,"l":7,"x":200.8,"y":1.59},{"c":66,"l":7,"x":196.9,"y":1.99},{"c":66,"l":7,"x":196.6,"y":2.45},{"c":66,"l":7,"x":200.4,"y":2.5},{"c":66,"l":7,"x":203.6,"y":2.22},{"c":66,"l":7,"x":203.6,"y":1.82},
{"c":70,"l":8,"x":168.8,"y":4.89},{"c":70,"l":8,"x":175.8,"y":5.01},{"c":70,"l":8,"x":184.6,"y":5.15},{"c":70,"l":8,"x":191.7,"y":5.24},{"c":70,"l":8,"x":219.8,"y":5.26},{"c":70,"l":8,"x":230.3,"y":5.32},{"c":70,"l":8,"x":205.7,"y":5.41},{"c":70,"l":8,"x":177.6,"y":5.45},{"c":70,"l":8,"x":149.4,"y":5.42},{"c":70,"l":8,"x":133.6,"y":5.35},{"c":70,"l":8,"x":123.1,"y":5.29},{"c":70,"l":8,"x":138.9,"y":5.15},{"c":70,"l":8,"x":156.5,"y":5.01},
{"c":71,"l":8,"x":103.7,"y":3.11},{"c":71,"l":8,"x":105.5,"y":3.42},{"c":71,"l":8,"x":99.5,"y":3.86},{"c":71,"l":8,"x":109,"y":3.94},{"c":71,"l":8,"x":116.7,"y":3.65},{"c":71,"l":8,"x":112.5,"y":3.37},{"c":71,"l":8,"x":109,"y":3.17},
{"c":72,"l":8,"x":240.9,"y":3.14},{"c":72,"l":8,"x":237.4,"y":3.48},{"c":72,"l":8,"x":247.9,"y":3.34},{"c":72,"l":8,"x":252.5,"y":3.05},{"c":72,"l":8,"x":245.1,"y":2.96},
{"c":73,"l":8,"x":128.3,"y":2.76},{"c":73,"l":8,"x":133.6,"y":2.73},{"c":73,"l":8,"x":142.4,"y":2.73},{"c":73,"l":8,"x":135.4,"y":2.88},{"c":73,"l":8,"x":128.3,"y":2.91},
{"c":74,"l":8,"x":172.3,"y":2.51},{"c":74,"l":8,"x":179.3,"y":2.68},{"c":74,"l":8,"x":177.6,"y":2.85},{"c":74,"l":8,"x":174.1,"y":2.85},{"c":74,"l":8,"x":168.8,"y":2.68},
{"c":75,"l":8,"x":177.6,"y":1.76},{"c":75,"l":8,"x":180,"y":1.73},{"c":75,"l":8,"x":181.1,"y":1.9},{"c":75,"l":8,"x":177.6,"y":1.93},
{"c":76,"l":8,"x":199.7,"y":1.76},{"c":76,"l":8,"x":196.2,"y":2.1},{"c":76,"l":8,"x":198,"y":2.39},{"c":76,"l":8,"x":202.2,"y":2.22},{"c":76,"l":8,"x":202.2,"y":1.87},
{"c":80,"l":9,"x":135.4,"y":5.26},{"c":80,"l":9,"x":151.2,"y":5.12},{"c":80,"l":9,"x":170.6,"y":5.03},{"c":80,"l":9,"x":181.1,"y":5.18},{"c":80,"l":9,"x":191.7,"y":5.26},{"c":80,"l":9,"x":219.8,"y":5.29},{"c":80,"l":9,"x":205.7,"y":5.36},{"c":80,"l":9,"x":177.6,"y":5.41},{"c":80,"l":9,"x":149.4,"y":5.38},{"c":80,"l":9,"x":135.4,"y":5.32},
{"c":81,"l":9,"x":105.5,"y":3.14},{"c":81,"l":9,"x":106.5,"y":3.42},{"c":81,"l":9,"x":101.3,"y":3.83},{"c":81,"l":9,"x":107.9,"y":3.91},{"c":81,"l":9,"x":116,"y":3.63},{"c":81,"l":9,"x":111.5,"y":3.37},
{"c":82,"l":9,"x":242.7,"y":3.19},{"c":82,"l":9,"x":239.1,"y":3.42},{"c":82,"l":9,"x":247.9,"y":3.28},{"c":82,"l":9,"x":251.4,"y":3.05},{"c":82,"l":9,"x":246.2,"y":2.99},
{"c":83,"l":9,"x":170.6,"y":2.51},{"c":83,"l":9,"x":175.8,"y":2.53},{"c":83,"l":9,"x":177.6,"y":2.73},{"c":83,"l":9,"x":174.1,"y":2.73},
{"c":84,"l":9,"x":130.1,"y":2.76},{"c":84,"l":9,"x":135.4,"y":2.76},{"c":84,"l":9,"x":132.6,"y":2.85},
{"c":85,"l":9,"x":199.7,"y":1.82},{"c":85,"l":9,"x":196.9,"y":2.13},{"c":85,"l":9,"x":198.7,"y":2.36},{"c":85,"l":9,"x":202.2,"y":2.19},{"c":85,"l":9,"x":202.2,"y":1.9},
{"c":90,"l":10,"x":145.9,"y":5.24},{"c":90,"l":10,"x":163.5,"y":5.12},{"c":90,"l":10,"x":172.3,"y":5.12},{"c":90,"l":10,"x":179.3,"y":5.21},{"c":90,"l":10,"x":191.7,"y":5.29},{"c":90,"l":10,"x":209.2,"y":5.31},{"c":90,"l":10,"x":191.7,"y":5.36},{"c":90,"l":10,"x":163.5,"y":5.38},{"c":90,"l":10,"x":145.9,"y":5.32},
{"c":91,"l":10,"x":106.5,"y":3.19},{"c":91,"l":10,"x":107.2,"y":3.42},{"c":91,"l":10,"x":102,"y":3.8},{"c":91,"l":10,"x":107.9,"y":3.87},{"c":91,"l":10,"x":115,"y":3.6},{"c":91,"l":10,"x":110.8,"y":3.37},
{"c":92,"l":10,"x":243.7,"y":3.25},{"c":92,"l":10,"x":240.2,"y":3.4},{"c":92,"l":10,"x":247.9,"y":3.22},{"c":92,"l":10,"x":249.7,"y":3.05},{"c":92,"l":10,"x":246.5,"y":3.02},
{"c":93,"l":10,"x":172.3,"y":2.53},{"c":93,"l":10,"x":175.8,"y":2.59},{"c":93,"l":10,"x":174.1,"y":2.65},
{"c":94,"l":10,"x":199.4,"y":1.87},{"c":94,"l":10,"x":197.6,"y":2.13},{"c":94,"l":10,"x":199.4,"y":2.33},{"c":94,"l":10,"x":201.5,"y":2.16},{"c":94,"l":10,"x":201.5,"y":1.93},
{"c":100,"l":11,"x":160,"y":5.24},{"c":100,"l":11,"x":168.8,"y":5.18},{"c":100,"l":11,"x":177.6,"y":5.24},{"c":100,"l":11,"x":189.9,"y":5.32},{"c":100,"l":11,"x":177.6,"y":5.35},{"c":100,"l":11,"x":160,"y":5.33},
{"c":101,"l":11,"x":107.2,"y":3.25},{"c":101,"l":11,"x":107.2,"y":3.42},{"c":101,"l":11,"x":103,"y":3.77},{"c":101,"l":11,"x":107.9,"y":3.83},{"c":101,"l":11,"x":114.3,"y":3.57},{"c":101,"l":11,"x":110.8,"y":3.37},
{"c":102,"l":11,"x":244.4,"y":3.28},{"c":102,"l":11,"x":241.6,"y":3.37},{"c":102,"l":11,"x":247.9,"y":3.17},{"c":102,"l":11,"x":248.6,"y":3.07},{"c":102,"l":11,"x":246.5,"y":3.07},
{"c":103,"l":11,"x":199.4,"y":1.9},{"c":103,"l":11,"x":198,"y":2.13},{"c":103,"l":11,"x":200.1,"y":2.3},{"c":103,"l":11,"x":200.8,"y":2.13},{"c":103,"l":11,"x":200.8,"y":1.96},
{"c":11,"l":1,"x":161.8,"y":2.91},{"c":11,"l":1,"x":168.8,"y":2.94},{"c":11,"l":1,"x":170.6,"y":3.08},{"c":11,"l":1,"x":165.3,"y":3.17},{"c":11,"l":1,"x":161,"y":3.05}
]},"mark":{"type":"line","filled":true,"strokeWidth":0},"encoding":{"x":{"field":"x","type":"quantitative","scale":{"domain":[0,365],"range":[0,346],"nice":false},"axis":{"values":[0,31,59,90,120,151,181,212,243,273,304,334,365],"labels":false,"ticks":false,"title":"month","titleFontSize":19,"titlePadding":45,"domain":false}},"y":{"field":"y","type":"quantitative","scale":{"domain":[0.045,6],"reverse":true,"nice":false},"axis":{"values":[1,2,3,4,5,6],"labelExpr":"pow(2,datum.value)","title":"Period (day)","titleFontSize":20,"titlePadding":27,"tickSize":8,"labelFontSize":17,"labelPadding":6,"domain":false}},"color":{"field":"l","type":"ordinal","scale":{"domain":[0,1,2,3,4,5,6,7,8,9,10,11],"range":["#FFFFFF","#A0A0FF","#4B4BFF","#0000EE","#00509A","#0A9040","#30C010","#90E000","#F0FF00","#FFB900","#FF5A00","#FF0000"]},"legend":null},"detail":{"field":"c"},"order":{"value":null}}},
{"data":{"values":[{"y":5.84,"a":79,"b":286},{"y":5.68,"a":71,"b":294},{"y":5.52,"a":64,"b":301},{"y":5.37,"a":59,"b":306},{"y":5.21,"a":54,"b":311},{"y":5.05,"a":49.5,"b":315.5},{"y":4.89,"a":45,"b":320},{"y":4.73,"a":41,"b":324},{"y":4.57,"a":36.5,"b":328.5},{"y":4.41,"a":32.5,"b":332.5},{"y":4.25,"a":29,"b":336},{"y":4.1,"a":25.5,"b":339.5},{"y":3.94,"a":22.5,"b":342.5},{"y":3.78,"a":20,"b":345},{"y":3.62,"a":17.5,"b":347.5},{"y":3.46,"a":15.5,"b":349.5},{"y":3.3,"a":13.5,"b":351.5},{"y":3.15,"a":12,"b":353},{"y":2.99,"a":10.7,"b":354.3},{"y":2.83,"a":9.7,"b":355.3},{"y":2.67,"a":8.7,"b":356.3},{"y":2.51,"a":8,"b":357},{"y":2.35,"a":7.2,"b":357.8},{"y":2.2,"a":6.5,"b":358.5},{"y":2.04,"a":5.8,"b":359.2},{"y":1.88,"a":5.2,"b":359.8},{"y":1.72,"a":4.7,"b":360.3},{"y":1.56,"a":4.2,"b":360.8},{"y":1.4,"a":3.7,"b":361.3},{"y":1.24,"a":3.2,"b":361.8},{"y":1.09,"a":2.8,"b":362.2},{"y":0.93,"a":2.4,"b":362.6},{"y":0.77,"a":2,"b":363}]},"layer":[
{"transform":[{"calculate":"0","as":"o"}],"mark":{"type":"rule","color":"#111111","strokeWidth":1},"encoding":{"x":{"field":"o","type":"quantitative"},"x2":{"field":"a"},"y":{"field":"y","type":"quantitative"}}},
{"transform":[{"calculate":"365","as":"o"}],"mark":{"type":"rule","color":"#111111","strokeWidth":1},"encoding":{"x":{"field":"b","type":"quantitative"},"x2":{"field":"o"},"y":{"field":"y","type":"quantitative"}}}]},
{"data":{"values":[{"x":1.7,"y":0.5},{"x":11.6,"y":3.1},{"x":21.4,"y":3.87},{"x":31.3,"y":4.35},{"x":41.1,"y":4.74},{"x":51,"y":5.08},{"x":60.8,"y":5.41},{"x":70.7,"y":5.66},{"x":80.5,"y":5.87},{"x":355.2,"y":2.84},{"x":345.3,"y":3.75},{"x":335.9,"y":4.26},{"x":326,"y":4.66},{"x":316.5,"y":5},{"x":306.7,"y":5.35},{"x":297.2,"y":5.62},{"x":287.3,"y":5.82}]},"transform":[{"calculate":"6","as":"e"}],"mark":{"type":"rule","color":"#111111","strokeWidth":1},"encoding":{"x":{"field":"x","type":"quantitative"},"y":{"field":"y","type":"quantitative"},"y2":{"field":"e"}}},
{"data":{"values":[{"a":117.1,"b":1.84,"c":127.6,"e":1.69},{"a":117.8,"b":2.02,"c":129,"e":1.83},{"a":117.1,"b":2.19,"c":123.1,"e":2.1},{"a":116,"b":2.4,"c":122,"e":2.32},{"a":116,"b":2.61,"c":128.3,"e":2.42},{"a":94.9,"b":2.79,"c":98.5,"e":2.73},{"a":98.5,"b":2.94,"c":105.5,"e":2.78},{"a":121.3,"b":2.85,"c":128.3,"e":2.73},{"a":128.3,"b":2.94,"c":156.5,"e":2.51},{"a":138.9,"b":3.02,"c":154.7,"e":2.9},{"a":151.2,"b":2.39,"c":168.8,"e":2.13},{"a":160,"b":2.44,"c":169.8,"e":2.29},{"a":167,"b":2.53,"c":180.4,"e":2.3},{"a":167,"b":2.71,"c":174.1,"e":2.61},{"a":174.1,"b":2.95,"c":179.3,"e":2.88},{"a":138.9,"b":1.3,"c":141.7,"e":1.25},{"a":139.6,"b":1.46,"c":142.4,"e":1.42},{"a":140.7,"b":1.63,"c":144.2,"e":1.59},{"a":141.4,"b":1.8,"c":143.5,"e":1.77},{"a":167,"b":1.57,"c":169.5,"e":1.54},{"a":166,"b":1.77,"c":168.4,"e":1.75},{"a":164.6,"b":1.99,"c":167.7,"e":1.94},{"a":176.9,"b":1.41,"c":181.8,"e":1.36},{"a":177.6,"b":1.56,"c":183.9,"e":1.47},{"a":178.3,"b":1.79,"c":183.9,"e":1.64},{"a":177.6,"b":1.93,"c":184.6,"e":1.82},{"a":175.8,"b":2.19,"c":181.1,"e":2.07},{"a":198,"b":1.1,"c":199.4,"e":1.06},{"a":196.9,"b":1.3,"c":201.5,"e":1.23},{"a":196.9,"b":1.56,"c":203.9,"e":1.41},{"a":197.6,"b":1.76,"c":204.7,"e":1.69},{"a":195.2,"b":2.02,"c":204.3,"e":1.9},{"a":195.2,"b":2.1,"c":204.3,"e":2.28},{"a":196.9,"b":2.39,"c":203.9,"e":2.3},{"a":198,"b":2.59,"c":205,"e":2.45},{"a":215.6,"b":1.56,"c":219.8,"e":1.48},{"a":214.5,"b":1.76,"c":221.5,"e":1.64},{"a":215.6,"b":1.96,"c":221.5,"e":1.84},{"a":215.6,"b":2.13,"c":221.5,"e":1.99},{"a":216.3,"b":2.28,"c":219.8,"e":2.22},{"a":245.1,"b":1.24,"c":247.2,"e":1.2},{"a":244.4,"b":1.42,"c":248.6,"e":1.36},{"a":241.6,"b":1.67,"c":254.3,"e":1.46},{"a":247.9,"b":1.76,"c":255.7,"e":1.63},{"a":248.6,"b":1.93,"c":255.7,"e":1.8},{"a":248.6,"b":2.1,"c":255.7,"e":2},{"a":98.5,"b":3.02,"c":107.2,"e":2.91},{"a":98.5,"b":3.19,"c":110.8,"e":2.99},{"a":103.7,"b":3.34,"c":114.3,"e":3.48},{"a":100.2,"b":3.65,"c":119.6,"e":3.42},{"a":94.9,"b":3.86,"c":119.6,"e":3.51},{"a":110.8,"b":3.97,"c":121.3,"e":3.83},{"a":103.7,"b":3.71,"c":110.8,"e":3.83},{"a":233.9,"b":3.08,"c":258.5,"e":2.76},{"a":233.9,"b":3.31,"c":255,"e":3.02},{"a":235.6,"b":3.48,"c":253.2,"e":3.17},{"a":240.9,"b":3.54,"c":247.9,"e":3.42},{"a":279.6,"b":3.31,"c":281.3,"e":3.26},{"a":278.9,"b":3.48,"c":284.9,"e":3.4},{"a":279.6,"b":3.65,"c":284.9,"e":3.57},{"a":282.4,"b":3.8,"c":284.9,"e":3.76},{"a":131.9,"b":5.32,"c":144.2,"e":5.14},{"a":140.7,"b":5.41,"c":166,"e":4.97},{"a":149.4,"b":5.44,"c":174.8,"e":5.01},{"a":159.3,"b":5.44,"c":181.1,"e":5.13},{"a":169.5,"b":5.45,"c":188.8,"e":5.15},{"a":181.1,"b":5.45,"c":197.6,"e":5.18},{"a":192.7,"b":5.44,"c":207.5,"e":5.22},{"a":207.5,"b":5.41,"c":217,"e":5.25},{"a":222.6,"b":5.33,"c":226.8,"e":5.29}]},"mark":{"type":"rule","color":"white","strokeWidth":1},"encoding":{"x":{"field":"a","type":"quantitative"},"x2":{"field":"c"},"y":{"field":"b","type":"quantitative"},"y2":{"field":"e"}}},
{"data":{"values":[{"s":"a","x":1.06,"y":0.04},{"s":"a","x":2.1,"y":0.695},{"s":"a","x":4.2,"y":1.52},{"s":"a","x":6.3,"y":2.11},{"s":"a","x":10.6,"y":2.97},{"s":"a","x":15.8,"y":3.49},{"s":"a","x":22.2,"y":3.92},{"s":"a","x":29.5,"y":4.28},{"s":"a","x":38,"y":4.63},{"s":"a","x":47.5,"y":4.97},{"s":"a","x":65.4,"y":5.56},{"s":"a","x":87.6,"y":5.99},{"s":"b","x":364,"y":0.04},{"s":"b","x":364,"y":0.61},{"s":"b","x":360.8,"y":1.52},{"s":"b","x":353.4,"y":2.97},{"s":"b","x":346,"y":3.88},{"s":"b","x":329.2,"y":4.57},{"s":"b","x":303.8,"y":5.38},{"s":"b","x":276.4,"y":5.99}]},"mark":{"type":"line","color":"black","strokeWidth":3,"interpolate":"monotone"},"encoding":{"x":{"field":"x","type":"quantitative"},"y":{"field":"y","type":"quantitative"},"detail":{"field":"s"},"order":{"value":null}}},
{"data":{"values":[{"x":0,"t":"J","y":6,"e":6.138},{"x":31,"t":"F","y":6,"e":6.138},{"x":59,"t":"M","y":6,"e":6.138},{"x":90,"t":"A","y":6,"e":6.138},{"x":120,"t":"M","y":6,"e":6.138},{"x":151,"t":"J","y":6,"e":6.138},{"x":181,"t":"J","y":6,"e":6.138},{"x":212,"t":"A","y":6,"e":6.138},{"x":243,"t":"S","y":6,"e":6.138},{"x":273,"t":"O","y":6,"e":6.138},{"x":304,"t":"N","y":6,"e":6.138},{"x":334,"t":"D","y":6,"e":6.138},{"x":365,"t":"","y":6,"e":6.138}]},"layer":[
{"mark":{"type":"rule","color":"black","strokeWidth":1.5,"clip":false},"encoding":{"x":{"field":"x","type":"quantitative"},"y":{"field":"y","type":"quantitative"},"y2":{"field":"e"}}},
{"mark":{"type":"text","dy":30,"baseline":"middle","font":"Liberation Sans","fontSize":17,"color":"black"},"encoding":{"x":{"field":"x","type":"quantitative"},"y":{"field":"y","type":"quantitative"},"text":{"field":"t"}}}]}
]},
{"layer":[
{"data":{"values":[{"a":0,"b":0.5,"c":0.045,"e":6}]},"mark":{"type":"rect","filled":false,"stroke":"black","strokeWidth":2},"encoding":{"x":{"field":"a","type":"quantitative","scale":{"domain":[0,0.5],"range":[346,483],"nice":false},"axis":{"values":[0.1,0.2,0.3,0.4,0.5],"labels":false,"ticks":false,"title":"Wavelet spectrum","titleFontSize":18.5,"titlePadding":43,"domain":false,"orient":"bottom"}},"x2":{"field":"b"},"y":{"field":"c","type":"quantitative","axis":{"orient":"right","offset":137,"values":[1,2,3,4,5,6],"labelExpr":"pow(2,datum.value)","title":null,"tickSize":8,"labelFontSize":17,"labelPadding":6,"domain":false}},"y2":{"field":"e"}}},
{"data":{"values":[{"p":0,"y":0.637},{"p":0.01,"y":0.896},{"p":0.04,"y":1.298},{"p":0.071,"y":1.557},{"p":0.113,"y":1.816},{"p":0.129,"y":2.045},{"p":0.134,"y":2.333},{"p":0.156,"y":2.563},{"p":0.21,"y":2.793},{"p":0.214,"y":3.051},{"p":0.2,"y":3.281},{"p":0.198,"y":3.482},{"p":0.207,"y":3.798},{"p":0.182,"y":4.057},{"p":0.14,"y":4.287},{"p":0.164,"y":4.545},{"p":0.137,"y":4.804},{"p":0.223,"y":5.034},{"p":0.478,"y":5.293},{"p":0.217,"y":5.551},{"p":0.061,"y":5.781},{"p":0.067,"y":5.994}]},"mark":{"type":"line","color":"black","strokeWidth":2},"encoding":{"x":{"field":"p","type":"quantitative"},"y":{"field":"y","type":"quantitative"},"order":{"value":null}}},
{"data":{"values":[{"p":0.1,"t":"0.1","y":6,"e":6.155},{"p":0.2,"t":"","y":6,"e":6.155},{"p":0.3,"t":"0.3","y":6,"e":6.155},{"p":0.4,"t":"","y":6,"e":6.155},{"p":0.5,"t":"0.5","y":6,"e":6.155}]},"layer":[
{"mark":{"type":"rule","color":"black","strokeWidth":1.5,"clip":false},"encoding":{"x":{"field":"p","type":"quantitative"},"y":{"field":"y","type":"quantitative"},"y2":{"field":"e"}}},
{"mark":{"type":"text","dy":29,"baseline":"middle","font":"Liberation Sans","fontSize":17,"color":"black"},"encoding":{"x":{"field":"p","type":"quantitative"},"y":{"field":"y","type":"quantitative"},"text":{"field":"t"}}}]}
]}
]},
{"width":346,"height":12.3,"view":{"stroke":null},"layer":[
{"data":{"values":[{"a":0,"b":1,"l":0,"c":0,"e":1},{"a":1,"b":2,"l":1,"c":0,"e":1},{"a":2,"b":3,"l":2,"c":0,"e":1},{"a":3,"b":4,"l":3,"c":0,"e":1},{"a":4,"b":5,"l":4,"c":0,"e":1},{"a":5,"b":6,"l":5,"c":0,"e":1},{"a":6,"b":7,"l":6,"c":0,"e":1},{"a":7,"b":8,"l":7,"c":0,"e":1},{"a":8,"b":9,"l":8,"c":0,"e":1},{"a":9,"b":10,"l":9,"c":0,"e":1},{"a":10,"b":11,"l":10,"c":0,"e":1},{"a":11,"b":12,"l":11,"c":0,"e":1}]},"mark":{"type":"rect","stroke":"black","strokeWidth":1.5},"encoding":{"x":{"field":"a","type":"quantitative","scale":{"domain":[0,12],"range":[-11,266.7],"nice":false},"axis":{"values":[1,3,5,7,9,11],"labelExpr":"{'1':'0','3':'0 2','5':'0 4','7':'0 6','9':'0 8','11':'1'}[datum.value]","title":null,"tickSize":2,"labelFontSize":17,"labelPadding":7,"domain":false,"labelFlush":false}},"x2":{"field":"b"},"y":{"field":"c","type":"quantitative","scale":{"domain":[0,1],"range":[12.3,-7.7],"nice":false},"axis":null},"y2":{"field":"e"},"color":{"field":"l","type":"ordinal","scale":{"domain":[0,1,2,3,4,5,6,7,8,9,10,11],"range":["#FFFFFF","#A0A0FF","#4B4BFF","#0000EE","#00509A","#0A9040","#30C010","#90E000","#F0FF00","#FFB900","#FF5A00","#FF0000"]},"legend":null}}},
{"data":{"values":[{"a":12.45,"c":0.0,"t":"(mm/day)²"}]},"mark":{"type":"text","align":"left","baseline":"middle","font":"Liberation Sans","fontSize":17,"color":"black","dy":3},"encoding":{"x":{"field":"a","type":"quantitative"},"y":{"field":"c","type":"quantitative"},"text":{"field":"t"}}}
]}
]}
